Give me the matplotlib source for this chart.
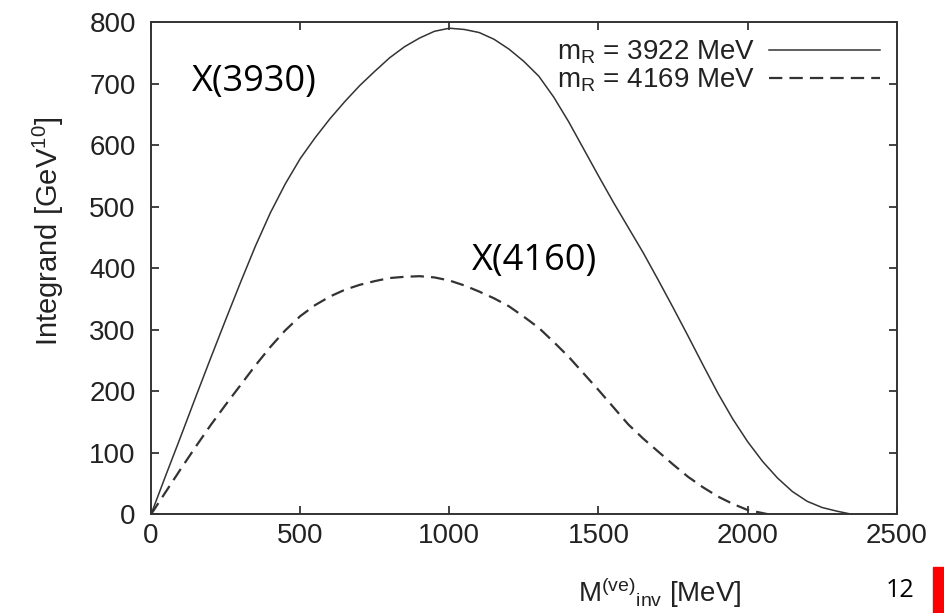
import matplotlib
matplotlib.use('Agg')
import matplotlib.pyplot as plt
from matplotlib.patches import Rectangle

plt.rcParams['font.family'] = ['Liberation Sans', 'DejaVu Sans']
plt.rcParams['mathtext.fontset'] = 'custom'
plt.rcParams['mathtext.rm'] = 'Liberation Sans'
plt.rcParams['mathtext.it'] = 'Liberation Sans'

# values (MeV, GeV^10)
m_inv = [0, 50, 100, 150, 200, 250, 300, 350, 400, 450, 500, 550, 600, 650,
         700, 750, 800, 850, 900, 950, 1000, 1050, 1100, 1150, 1200, 1250,
         1300, 1350, 1400, 1450, 1500, 1550, 1600, 1650, 1700, 1750, 1800,
         1850, 1900, 1950, 2000, 2050, 2100, 2150, 2200, 2250, 2300, 2350]
integrand_3922 = [0, 64, 127, 191, 254, 316, 377, 436, 490, 537, 578, 612,
                  643, 671, 697, 720, 742, 760, 774, 785, 790, 788, 783, 772,
                  756, 736, 712, 678, 638, 594, 550, 507, 466, 425, 381, 336,
                  290, 243, 197, 155, 118, 86, 59, 37, 21, 11, 5, 0]

m_inv_b = [0, 50, 100, 150, 200, 250, 300, 350, 400, 450, 500, 550, 600, 650,
           700, 750, 800, 850, 900, 950, 1000, 1050, 1100, 1150, 1200, 1250,
           1300, 1350, 1400, 1450, 1500, 1550, 1600, 1650, 1700, 1750, 1800,
           1850, 1900, 1950, 2000, 2050, 2070]
integrand_4169 = [0, 37, 74, 110, 145, 178, 210, 242, 272, 299, 322, 340,
                  354, 365, 373, 379, 384, 386, 387, 385, 380, 372, 362, 351,
                  338, 321, 303, 280, 256, 229, 202, 174, 146, 123, 102, 81,
                  61, 44, 29, 17, 7, 2, 0]

series_labels = [r'm$_{\rm R}$ = 3922 MeV', r'm$_{\rm R}$ = 4169 MeV']
x_ticks = [0, 500, 1000, 1500, 2000, 2500]
y_ticks = [0, 100, 200, 300, 400, 500, 600, 700, 800]

fig = plt.figure(figsize=(9.44, 6.13), dpi=100)
ax = fig.add_axes([0.160, 0.161, 0.790, 0.803])

ax.plot(m_inv, integrand_3922, color='#333333', lw=1.1, label=series_labels[0])
ax.plot(m_inv_b, integrand_4169, color='#333333', lw=1.6, dashes=(6, 3.2),
        label=series_labels[1])

ax.set_xlim(0, 2500)
ax.set_ylim(0, 800)
ax.set_xticks(x_ticks)
ax.set_yticks(y_ticks)
ax.tick_params(direction='in', length=6, width=1.2, top=True, right=True,
               labelsize=20, colors='#222222')
ax.tick_params(axis='y', pad=11)
ax.tick_params(axis='x', pad=6)
for s in ax.spines.values():
    s.set_linewidth(1.4)
    s.set_color('#333333')

leg = ax.legend(loc='upper right', frameon=False, markerfirst=False,
                fontsize=20, handlelength=4.0, handletextpad=0.5,
                labelspacing=0.0, borderaxespad=0.2)
for t in leg.get_texts():
    t.set_color('#222222')

fig.text(0.051, 0.623, r'Integrand [GeV$^{10}$]', rotation=90, ha='center',
         va='center', fontsize=21, color='#222222')
fig.text(0.699, 0.033, r'M$^{\rm (ve)}{}_{\rm inv}$ [MeV]', ha='center',
         va='center', fontsize=20, color='#222222')

ax.text(137, 703, 'X(3930)', fontsize=26, family='Open Sans', va='center',
        ha='left', color='black')
ax.text(1075, 412, 'X(4160)', fontsize=26, family='Open Sans', va='center',
        ha='left', color='black')

fig.text(0.953, 0.036, '12', fontsize=18, family='Open Sans', ha='center',
         va='center', color='black')
fig.patches.append(Rectangle((0.988, 0.0), 0.012, 0.075, transform=fig.transFigure,
                             color='#ff0000', zorder=5))

plt.savefig('out.png', dpi=100)
